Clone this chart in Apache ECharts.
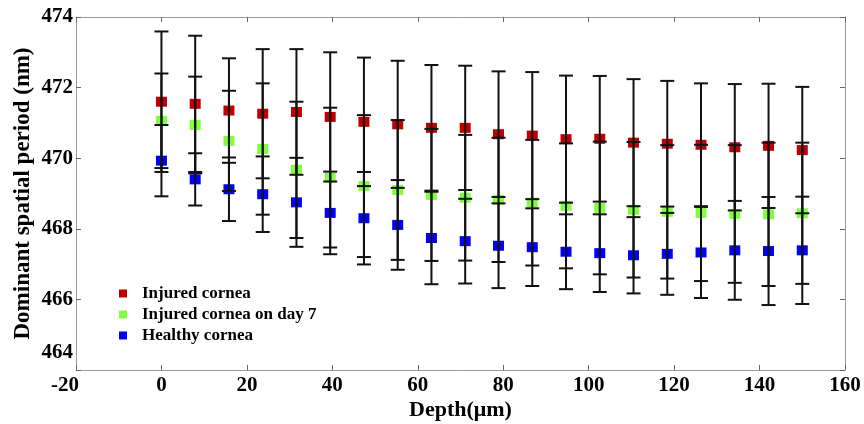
<!DOCTYPE html>
<html>
<head>
<meta charset="utf-8">
<script src="https://cdn.jsdelivr.net/npm/echarts@6/dist/echarts.min.js"></script>
<style>
    html, body {margin: 0; padding: 0; background: #fff;}
    #chart {width: 864px; height: 424px;}
</style>
</head>
<body>
<div id="chart"></div>
<script>
// depth in micrometres
const depth = [0, 7.9, 15.8, 23.7, 31.6, 39.5, 47.4, 55.3, 63.2, 71.1, 78.9, 86.8, 94.7, 102.6, 110.5, 118.4, 126.3, 134.2, 142.1, 150];

const injured = [471.60, 471.54, 471.35, 471.26, 471.31, 471.17, 471.03, 470.96, 470.86, 470.86, 470.68, 470.64, 470.54, 470.55, 470.44, 470.41, 470.38, 470.31, 470.35, 470.23];
const injuredErr = [1.99, 1.93, 1.48, 1.83, 1.78, 1.83, 1.82, 1.80, 1.78, 1.76, 1.78, 1.80, 1.80, 1.78, 1.80, 1.78, 1.74, 1.79, 1.76, 1.79];

const day7 = [471.06, 470.94, 470.49, 470.26, 469.67, 469.45, 469.21, 469.10, 468.96, 468.88, 468.82, 468.74, 468.65, 468.59, 468.54, 468.48, 468.45, 468.42, 468.41, 468.44];
const day7Err = [1.34, 1.37, 1.42, 1.86, 1.93, 1.98, 2.01, 1.98, 1.87, 1.78, 1.76, 1.78, 1.77, 1.88, 1.92, 1.89, 1.93, 1.95, 2.03, 2.00];

const healthy = [469.93, 469.40, 469.12, 468.98, 468.75, 468.45, 468.30, 468.11, 467.74, 467.65, 467.52, 467.48, 467.35, 467.31, 467.25, 467.29, 467.33, 467.39, 467.37, 467.39];
const healthyErr = [1.01, 0.74, 0.90, 1.07, 1.26, 1.17, 1.31, 1.27, 1.31, 1.20, 1.20, 1.10, 1.06, 1.10, 1.08, 1.16, 1.29, 1.40, 1.53, 1.52];

const seriesNames = ['Injured cornea', 'Injured cornea on day 7', 'Healthy cornea'];
const seriesColors = ['#c00000', '#80ff40', '#0000ff'];

const FONT = 'Liberation Serif';
const AXIS_GREY = '#9a9a9a';

function points(vals){
    return vals.map((v, i) => [depth[i], v]);
}

function bars(vals, errs){
    return vals.map((v, i) => [depth[i], v - errs[i], v + errs[i]]);
}

function renderErrorBar(params, api){
    const x = api.value(0);
    const lo = api.coord([x, api.value(1)]);
    const hi = api.coord([x, api.value(2)]);
    const cap = 7;
    const style = {stroke: '#111', lineWidth: 2};
    return {
        type: 'group',
        children: [
            {type: 'line', shape: {x1: lo[0], y1: lo[1], x2: hi[0], y2: hi[1]}, style: style},
            {type: 'line', shape: {x1: lo[0] - cap, y1: lo[1], x2: lo[0] + cap, y2: lo[1]}, style: style},
            {type: 'line', shape: {x1: hi[0] - cap, y1: hi[1], x2: hi[0] + cap, y2: hi[1]}, style: style}
        ]
    };
}

const values = [injured, day7, healthy];
const errors = [injuredErr, day7Err, healthyErr];

let series = [];
values.forEach((vals, k) => {
    series.push({
        name: seriesNames[k],
        type: 'scatter',
        symbol: 'rect',
        symbolSize: [11, 10],
        itemStyle: {color: seriesColors[k], opacity: 1},
        data: points(vals),
        z: 2
    });
});
values.forEach((vals, k) => {
    series.push({
        name: seriesNames[k] + ' error',
        type: 'custom',
        renderItem: renderErrorBar,
        encode: {x: 0, y: [1, 2]},
        data: bars(vals, errors[k]),
        z: 3,
        silent: true
    });
});

const labelStyle = {fontFamily: FONT, fontWeight: 'bold', fontSize: 21, color: '#000'};

let myChart = echarts.init(document.getElementById('chart'));
let option = {
    animation: false,
    grid: {left: 76, right: 19, top: 17, bottom: 54, outerBoundsMode: 'none', containLabel: false},
    legend: {
        data: seriesNames.map(n => ({name: n, icon: 'rect'})),
        orient: 'vertical',
        left: 114,
        top: 280,
        itemWidth: 8,
        itemHeight: 8,
        itemGap: 4,
        textStyle: {fontFamily: FONT, fontWeight: 'bold', fontSize: 17, color: '#000', padding: [0, 0, 0, 10]}
    },
    xAxis: [{
        type: 'value',
        min: -20,
        max: 160,
        interval: 20,
        name: 'Depth(\u03bcm)',
        nameLocation: 'middle',
        nameGap: 29,
        nameMoveOverlap: false,
        nameTextStyle: {fontFamily: FONT, fontWeight: 'bold', fontSize: 22, color: '#000'},
        axisLine: {onZero: false, lineStyle: {color: AXIS_GREY}},
        axisTick: {inside: true, length: 5, lineStyle: {color: '#666'}},
        axisLabel: Object.assign({
            margin: 5,
            // the -20 label sits a little left of its tick in the original
            formatter: v => v === -20 ? '{lo|-20}' : String(v),
            rich: {lo: Object.assign({padding: [0, 22, 0, 0]}, labelStyle)}
        }, labelStyle),
        splitLine: {show: false}
    }, {
        type: 'value',
        position: 'top',
        min: -20,
        max: 160,
        interval: 20,
        axisLine: {show: true, onZero: false, lineStyle: {color: AXIS_GREY}},
        axisTick: {inside: true, length: 5, lineStyle: {color: '#666'}},
        axisLabel: {show: false},
        splitLine: {show: false}
    }],
    yAxis: [{
        type: 'value',
        min: 464,
        max: 474,
        interval: 2,
        name: 'Dominant spatial period (nm)',
        nameLocation: 'middle',
        nameGap: 41,
        nameMoveOverlap: false,
        nameTextStyle: {fontFamily: FONT, fontWeight: 'bold', fontSize: 23, color: '#000'},
        axisLine: {show: true, onZero: false, lineStyle: {color: AXIS_GREY}},
        axisTick: {inside: true, length: 5, lineStyle: {color: '#666'}},
        axisLabel: Object.assign({
            margin: 3,
            formatter: v => v === 464 ? '{lo|464}' : String(v),
            rich: {lo: Object.assign({padding: [0, 0, 34, 0]}, labelStyle)}
        }, labelStyle),
        splitLine: {show: false}
    }, {
        type: 'value',
        position: 'right',
        min: 464,
        max: 474,
        interval: 2,
        axisLine: {show: true, onZero: false, lineStyle: {color: AXIS_GREY}},
        axisTick: {inside: true, length: 5, lineStyle: {color: '#666'}},
        axisLabel: {show: false},
        splitLine: {show: false}
    }],
    series: series
};
myChart.setOption(option);
</script>
</body>
</html>
